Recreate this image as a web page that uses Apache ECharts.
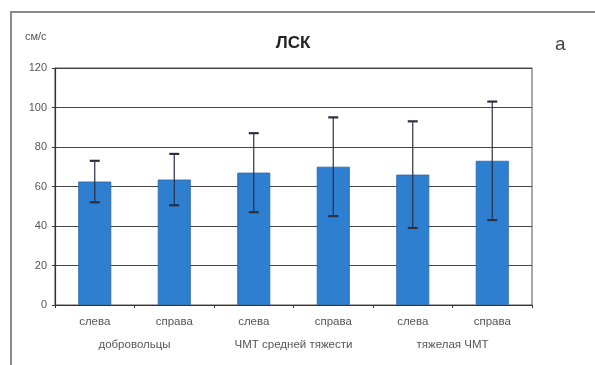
<!DOCTYPE html>
<html>
<head>
<meta charset="utf-8">
<script src="https://cdn.jsdelivr.net/npm/echarts@6/dist/echarts.min.js"></script>
<style>
  html, body { margin: 0; padding: 0; background: #fff; }
  #chart { width: 595px; height: 365px; }
</style>
</head>
<body>
<div id="chart"></div>
<script>
// Side labels under each bar and the group labels beneath them
const sides = ['слева', 'справа', 'слева', 'справа', 'слева', 'справа'];
const groups = ['добровольцы', 'ЧМТ средней тяжести', 'тяжелая ЧМТ'];
// Mean velocity (см/с) and standard deviation for each bar
const means = [62.5, 63.5, 67, 70, 66, 73];
const sds = [10.5, 13, 20, 25, 27, 30];
// Y axis scale
const yMin = 0, yMax = 120, yStep = 20;

const errData = means.map((m, i) => [i, m - sds[i], m + sds[i]]);

const chart = echarts.init(document.getElementById('chart'), null, { renderer: 'canvas' });
const font = '"Liberation Sans", Arial, sans-serif';

chart.setOption({
  animation: false,
  backgroundColor: '#fff',
  title: {
    text: 'ЛСК',
    left: 288, top: 30,
    textAlign: 'center',
    textStyle: { fontFamily: font, fontSize: 17, fontWeight: 'bold', color: '#222' }
  },
  grid: {
    left: 55, right: 63, top: 68, bottom: 60,
    show: true, borderColor: '#555', borderWidth: 1, backgroundColor: 'transparent'
  },
  xAxis: [{
    type: 'category',
    data: sides,
    axisLine: { lineStyle: { color: '#333', width: 1.2 } },
    axisTick: { show: true, length: 3, lineStyle: { color: '#333' } },
    axisLabel: { fontFamily: font, fontSize: 11.5, color: '#555', margin: 11 }
  }, {
    type: 'category',
    data: groups,
    position: 'bottom',
    gridIndex: 0,
    axisLine: { show: false },
    axisTick: { show: false },
    axisLabel: { fontFamily: font, fontSize: 11.5, color: '#555', margin: 34 }
  }],
  yAxis: {
    type: 'value',
    min: yMin, max: yMax, interval: yStep,
    axisLine: { show: true, lineStyle: { color: '#333', width: 1.2 } },
    axisTick: { show: true, length: 3, lineStyle: { color: '#333' } },
    axisLabel: { fontFamily: font, fontSize: 11, color: '#555', margin: 8 },
    splitLine: { lineStyle: { color: '#444', width: 1.2 } }
  },
  graphic: [
    { type: 'rect', shape: { x: 11, y: 12, width: 600, height: 400 },
      style: { fill: 'none', stroke: '#8a8a8a', lineWidth: 2 }, silent: true },
    { type: 'text', left: 25, top: 31,
      style: { text: 'см/с', font: '11px ' + font, fill: '#555' } },
    { type: 'text', left: 555, top: 35,
      style: { text: 'а', font: '19px ' + font, fill: '#444' } }
  ],
  series: [{
    type: 'bar',
    xAxisIndex: 0,
    data: means,
    barWidth: 33,
    itemStyle: { color: '#2f7fd1', borderColor: '#2a66a8', borderWidth: 0.8 },
    z: 2
  }, {
    type: 'custom',
    xAxisIndex: 0,
    data: errData,
    z: 5,
    renderItem: function (params, api) {
      const x = api.value(0);
      const lo = api.coord([x, api.value(1)]);
      const hi = api.coord([x, api.value(2)]);
      const cap = 5;
      const st = { stroke: '#2b2f45', lineWidth: 1.2 };
      const capSt = { stroke: '#2b2f45', lineWidth: 2.2 };
      return {
        type: 'group',
        children: [
          { type: 'line', shape: { x1: hi[0], y1: hi[1], x2: lo[0], y2: lo[1] }, style: st },
          { type: 'line', shape: { x1: hi[0] - cap, y1: hi[1], x2: hi[0] + cap, y2: hi[1] }, style: capSt },
          { type: 'line', shape: { x1: lo[0] - cap, y1: lo[1], x2: lo[0] + cap, y2: lo[1] }, style: capSt }
        ]
      };
    }
  }]
});
</script>
</body>
</html>
